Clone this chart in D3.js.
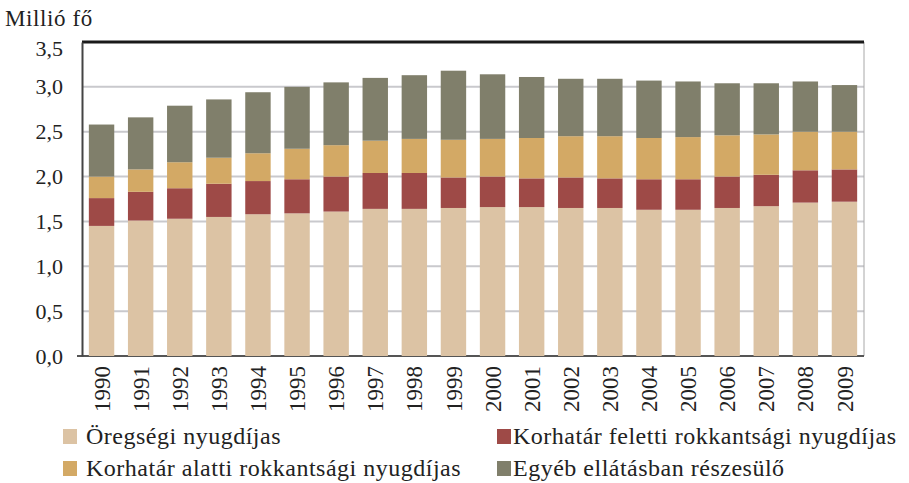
<!DOCTYPE html>
<html>
<head>
<meta charset="utf-8">
<script src="https://cdn.jsdelivr.net/npm/d3@7"></script>
<style>
  body { margin: 0; background: #fff; }
  svg { display: block; font-family: "Liberation Serif", "Times New Roman", serif; }
</style>
</head>
<body>
<div id="mainChart"></div>
<script>
const years = ['1990', '1991', '1992', '1993', '1994', '1995', '1996', '1997', '1998', '1999',
    '2000', '2001', '2002', '2003', '2004', '2005', '2006', '2007', '2008', '2009'];

// millió fő
const oregsegi = [1.45, 1.51, 1.53, 1.55, 1.58, 1.59, 1.61, 1.64, 1.64, 1.65,
    1.66, 1.66, 1.65, 1.65, 1.63, 1.63, 1.65, 1.67, 1.71, 1.72];
const felettiRokkant = [0.31, 0.32, 0.34, 0.37, 0.37, 0.38, 0.39, 0.40, 0.40, 0.34,
    0.34, 0.32, 0.34, 0.33, 0.34, 0.34, 0.35, 0.35, 0.36, 0.36];
const alattiRokkant = [0.24, 0.25, 0.29, 0.29, 0.31, 0.34, 0.35, 0.36, 0.38, 0.42,
    0.42, 0.45, 0.46, 0.47, 0.46, 0.47, 0.46, 0.45, 0.43, 0.42];
const egyeb = [0.58, 0.58, 0.63, 0.65, 0.68, 0.69, 0.70, 0.70, 0.71, 0.77,
    0.72, 0.68, 0.64, 0.64, 0.64, 0.62, 0.58, 0.57, 0.56, 0.52];

const yTicks = [0, 0.5, 1, 1.5, 2, 2.5, 3, 3.5];
const seriesNames = ['Öregségi nyugdíjas', 'Korhatár feletti rokkantsági nyugdíjas',
    'Korhatár alatti rokkantsági nyugdíjas', 'Egyéb ellátásban részesülő'];
const seriesColors = ['#dcc3a4', '#9e4a47', '#d3a965', '#807f6b'];

const width = 909, height = 483;
const margin = { top: 42, right: 45, bottom: 127, left: 82 };

const svg = d3.select('#mainChart').append('svg')
    .attr('width', width)
    .attr('height', height);

const table = years.map((yr, i) => ({
    year: yr, s0: oregsegi[i], s1: felettiRokkant[i], s2: alattiRokkant[i], s3: egyeb[i]
}));
const stack = d3.stack().keys(['s0', 's1', 's2', 's3'])(table);

const x = d3.scaleBand()
    .domain(years)
    .range([margin.left, width - margin.right])
    .paddingInner(0.35)
    .paddingOuter(0.175);

const y = d3.scaleLinear()
    .domain([0, 3.5])
    .range([height - margin.bottom, margin.top]);

const fmt = d => d3.format('.1f')(d).replace('.', ',');

// rácsvonalak
svg.append('g')
    .selectAll('line')
    .data(yTicks.slice(1, -1))
    .join('line')
    .attr('x1', margin.left)
    .attr('x2', width - margin.right)
    .attr('y1', d => y(d))
    .attr('y2', d => y(d))
    .attr('stroke', '#c9c9cd')
    .attr('stroke-width', 2);

// jobb szél
svg.append('line')
    .attr('x1', width - margin.right).attr('x2', width - margin.right)
    .attr('y1', margin.top).attr('y2', y(0))
    .attr('stroke', '#a8a8a8')
    .attr('stroke-width', 1);

// alsó tengely
svg.append('line')
    .attr('x1', margin.left - 5).attr('x2', width - margin.right)
    .attr('y1', y(0)).attr('y2', y(0))
    .attr('stroke', '#555')
    .attr('stroke-width', 2);

// oszlopok
svg.append('g')
    .selectAll('g')
    .data(stack)
    .join('g')
    .attr('fill', (d, i) => seriesColors[i])
    .selectAll('rect')
    .data(d => d)
    .join('rect')
    .attr('x', d => x(d.data.year))
    .attr('width', x.bandwidth())
    .attr('y', d => y(d[1]))
    .attr('height', d => y(d[0]) - y(d[1]));

// felső keret
svg.append('line')
    .attr('x1', margin.left).attr('x2', width - margin.right)
    .attr('y1', margin.top).attr('y2', margin.top)
    .attr('stroke', '#1a1a1a')
    .attr('stroke-width', 3);

// függőleges tengely
const yAxis = g => g
    .attr('transform', `translate(${margin.left},0)`)
    .call(d3.axisLeft(y).tickValues(yTicks).tickFormat(fmt).tickSize(0).tickPadding(19))
    .call(g => g.select('.domain').attr('stroke', '#444').attr('stroke-width', 2))
    .call(g => g.selectAll('.tick text')
        .attr('font-family', '"Liberation Serif", serif')
        .attr('font-size', 22)
        .attr('fill', '#222'))
    // a legfelső címke lejjebb ül, mint a vonal
    .call(g => g.selectAll('.tick').filter(d => d === 3.5).select('text').attr('dy', '0.62em'));

svg.append('g').call(yAxis);

// évek
svg.append('g')
    .selectAll('text')
    .data(years)
    .join('text')
    .attr('transform', d => `translate(${x(d) + x.bandwidth() / 2},366) rotate(-90)`)
    .attr('text-anchor', 'end')
    .attr('dy', '0.35em')
    .attr('font-size', 23)
    .attr('fill', '#222')
    .text(d => d);

// tengelycím
svg.append('text')
    .attr('x', 5)
    .attr('y', 26)
    .attr('font-size', 23)
    .attr('letter-spacing', 0.6)
    .attr('fill', '#222')
    .text('Millió fő');

// jelmagyarázat
const legendPos = [
    { sx: 63, tx: 86, y: 444 },
    { sx: 497, tx: 513, y: 444 },
    { sx: 63, tx: 86, y: 476 },
    { sx: 497, tx: 513, y: 476 }
];

const legend = svg.append('g')
    .selectAll('g')
    .data(seriesNames)
    .join('g');

legend.append('rect')
    .attr('x', (d, i) => legendPos[i].sx)
    .attr('y', (d, i) => legendPos[i].y - 15)
    .attr('width', 14)
    .attr('height', 15)
    .attr('fill', (d, i) => seriesColors[i]);

legend.append('text')
    .attr('x', (d, i) => legendPos[i].tx)
    .attr('y', (d, i) => legendPos[i].y)
    .attr('font-size', 24)
    .attr('letter-spacing', 0.5)
    .attr('fill', '#222')
    .text(d => d);
</script>
</body>
</html>
